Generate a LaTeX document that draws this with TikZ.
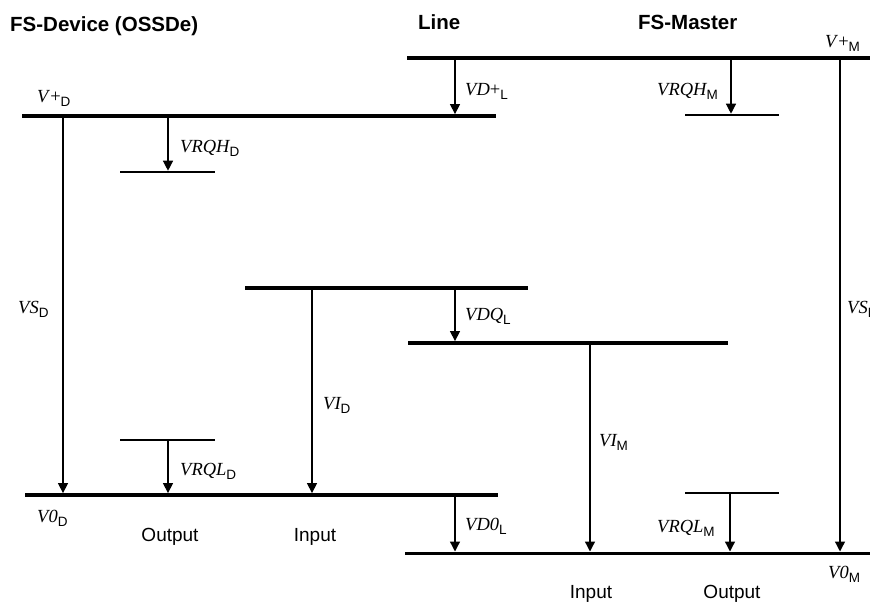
\documentclass[tikz,border=0pt]{standalone}
\usepackage{fontspec}
\setmainfont{Liberation Serif}
\setsansfont{Liberation Sans}
\usetikzlibrary{arrows.meta}
\newcommand\vlab[2]{\fontsize{18.5}{18.5}\selectfont\itshape #1\raisebox{-4pt}{\upshape\sffamily\fontsize{13.5}{13.5}\selectfont #2}}
\begin{document}
\begin{tikzpicture}[x=1pt,y=-1pt,
  bus/.style={line width=3.8pt},
  lowbus/.style={line width=3pt},
  lvl/.style={line width=2.7pt},
  volt/.style={line width=1.3pt,-{Triangle[length=10pt,width=10pt]}},
  title/.style={font=\sffamily\bfseries\fontsize{20.5}{20.5}\selectfont, inner sep=0pt, anchor=base west},
  side/.style={font=\sffamily\fontsize{19}{19}\selectfont, inner sep=0pt, anchor=base},
  vl/.style={inner sep=0pt, anchor=base west}
]
\useasboundingbox (0,0) rectangle (870,605);
\clip (0,0) rectangle (870,605);

% titles
\node[title] (tD) at (10,31) {FS-Device (OSSDe)};
\node[title] (tL) at (418,29) {Line};
\node[title] (tM) at (638,29) {FS-Master};

% level lines
\coordinate (vpDl) at (22,116);  \coordinate (vpDr) at (496,116);
\coordinate (vpMl) at (407,58);  \coordinate (vpMr) at (872,58);
\coordinate (rhDl) at (120,172); \coordinate (rhDr) at (215,172);
\coordinate (rhMl) at (685,115); \coordinate (rhMr) at (779,115);
\coordinate (iDl) at (245,288);  \coordinate (iDr) at (528,288);
\coordinate (dqL) at (408,343);  \coordinate (dqR) at (728,343);
\coordinate (rlDl) at (120,440); \coordinate (rlDr) at (215,440);
\coordinate (zDl) at (25,495);   \coordinate (zDr) at (498,495);
\coordinate (rlMl) at (685,493); \coordinate (rlMr) at (779,493);
\coordinate (zMl) at (405,553);  \coordinate (zMr) at (872,553);

\draw[bus] (vpDl) -- (vpDr);
\draw[bus] (vpMl) -- (vpMr);
\draw[lvl] (rhDl) -- (rhDr);
\draw[lvl] (rhMl) -- (rhMr);
\draw[bus] (iDl) -- (iDr);
\draw[bus] (dqL) -- (dqR);
\draw[lvl] (rlDl) -- (rlDr);
\draw[bus] (zDl) -- (zDr);
\draw[lvl] (rlMl) -- (rlMr);
\draw[lowbus] (zMl) -- (zMr);

% arrow end points
\coordinate (sDa) at (63,116);   \coordinate (sDb) at (63,493.1);
\coordinate (hDa) at (168,116);  \coordinate (hDb) at (168,170.7);
\coordinate (dpa) at (455,58);   \coordinate (dpb) at (455,114.1);
\coordinate (hMa) at (731,58);   \coordinate (hMb) at (731,113.7);
\coordinate (sMa) at (840,58);   \coordinate (sMb) at (840,551.5);
\coordinate (iDa) at (312,288);  \coordinate (iDb) at (312,493.1);
\coordinate (dqa) at (455,288);  \coordinate (dqb) at (455,341.1);
\coordinate (iMa) at (590,343);  \coordinate (iMb) at (590,551.5);
\coordinate (lDa) at (168,440);  \coordinate (lDb) at (168,493.1);
\coordinate (d0a) at (455,495);  \coordinate (d0b) at (455,551.5);
\coordinate (lMa) at (730,493);  \coordinate (lMb) at (730,551.5);

\draw[volt] (sDa) -- (sDb);
\draw[volt] (hDa) -- (hDb);
\draw[volt] (dpa) -- (dpb);
\draw[volt] (hMa) -- (hMb);
\draw[volt] (sMa) -- (sMb);
\draw[volt] (iDa) -- (iDb);
\draw[volt] (dqa) -- (dqb);
\draw[volt] (iMa) -- (iMb);
\draw[volt] (lDa) -- (lDb);
\draw[volt] (d0a) -- (d0b);
\draw[volt] (lMa) -- (lMb);

% voltage labels
\node[vl] (LvpD) at (37,102)  {\vlab{V\textup{+}}{D}};
\node[vl] (LhD)  at (180,152) {\vlab{VRQH}{D}};
\node[vl] (Ldp)  at (465,95)  {\vlab{VD\textup{+}}{L}};
\node[vl] (LhM)  at (657,95)  {\vlab{VRQH}{M}};
\node[vl] (LvpM) at (825,47)  {\vlab{V\textup{+}}{M}};
\node[vl] (LsD)  at (18,313)  {\vlab{VS}{D}};
\node[vl] (LiD)  at (323,409) {\vlab{VI}{D}};
\node[vl] (LlD)  at (180,475) {\vlab{VRQL}{D}};
\node[vl] (LzD)  at (37,522)  {\vlab{V0}{D}};
\node[vl] (Ldq)  at (465,320) {\vlab{VDQ}{L}};
\node[vl] (LiM)  at (599,446) {\vlab{VI}{M}};
\node[vl] (Ld0)  at (465,530) {\vlab{VD0}{L}};
\node[vl] (LlM)  at (657,532) {\vlab{VRQL}{M}};
\node[vl] (LzM)  at (828,578) {\vlab{V0}{M}};
\node[vl] (LsM)  at (847,313) {\vlab{VS}{M}};

% port labels
\node[side] (oD) at (170,541) {Output};
\node[side] (iD) at (315,541) {Input};
\node[side] (iM) at (591,598) {Input};
\node[side] (oM) at (732,598) {Output};
\end{tikzpicture}
\end{document}
